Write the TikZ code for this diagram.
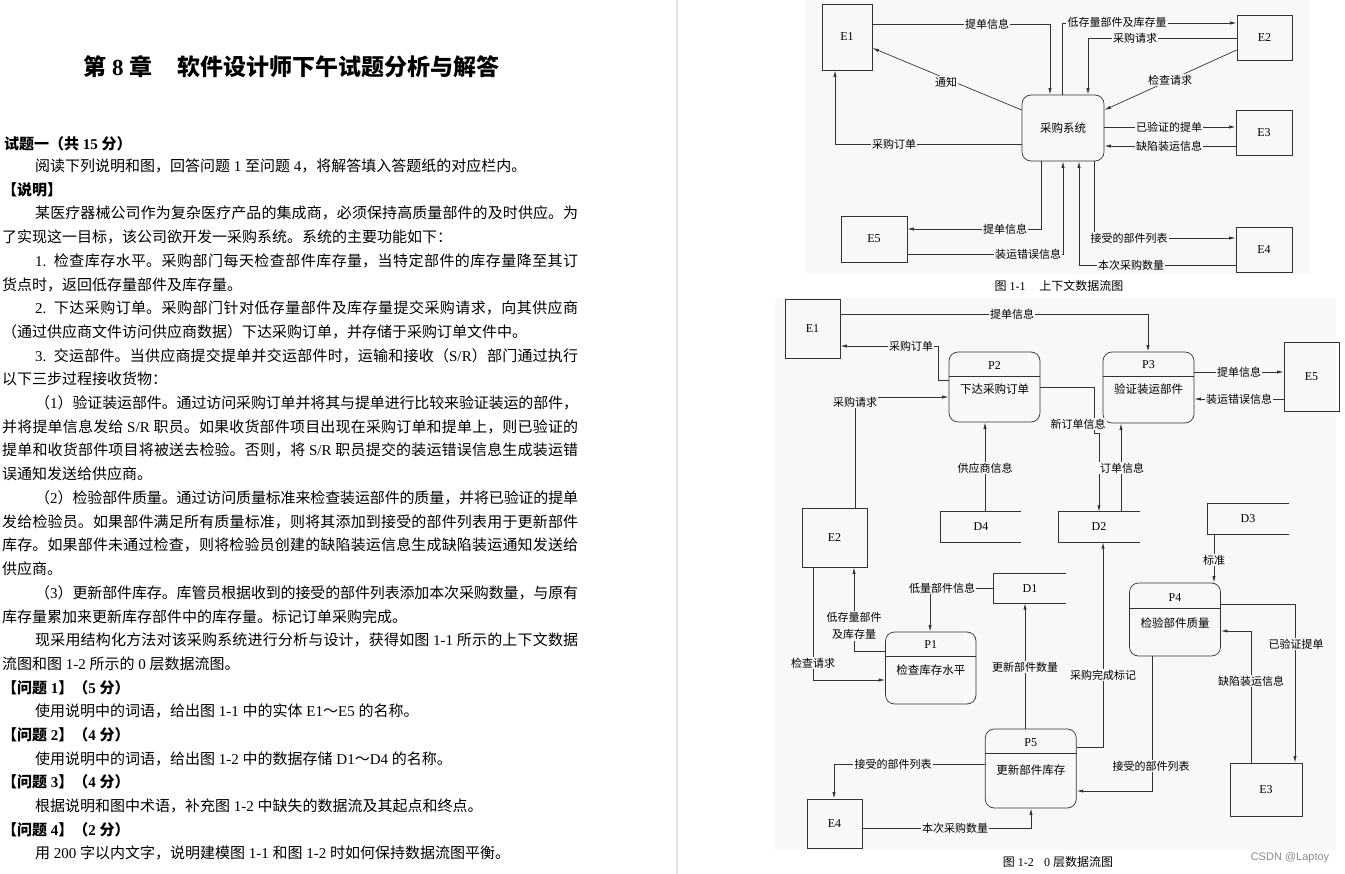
\documentclass[tikz,border=0pt]{standalone}
\usepackage{fontspec}
\setmainfont{Noto Sans CJK SC}
\newfontfamily\lat{Liberation Serif}
\newfontfamily\csdnfont{Liberation Sans}
\usetikzlibrary{arrows.meta,calc}
\XeTeXlinebreaklocale "zh"
\XeTeXlinebreakskip=0pt plus 2pt minus 0.3pt
\definecolor{bgg}{RGB}{248,248,248}
\definecolor{sepc}{RGB}{226,226,226}
\newcommand\Nb[1]{\hspace{.25em}{\lat #1}\hspace{.25em}}
\newcommand\Nl[1]{\hspace{.25em}{\lat #1}}
\begin{document}
\begin{tikzpicture}[x=1pt,y=-1pt,
  body/.style={anchor=west, inner sep=0pt, font=\fontsize{15}{18}\selectfont},
  jus/.style={body, text width=#1, align=justify,
    execute at begin node={\parindent=0pt\parfillskip=0pt\relax}},
  ent/.style={draw=black!80, line width=.7pt, inner sep=0pt, font=\lat\fontsize{12}{14}\selectfont},
  proc/.style={draw=black!80, line width=.7pt, rounded corners=9pt, inner sep=0pt},
  store/.style={inner sep=0pt, font=\lat\fontsize{12}{14}\selectfont},
  pid/.style={inner sep=0pt, font=\lat\fontsize{12}{14}\selectfont},
  ptxt/.style={inner sep=0pt, font=\fontsize{11.5}{14}\selectfont},
  conn/.style={draw=black!80, line width=.7pt},
  arr/.style={conn, -{Latex[length=6.5pt,width=3.2pt]}},
  lbl/.style={fill=bgg, inner sep=1.2pt, font=\fontsize{11}{13}\selectfont},
  figcap/.style={inner sep=0pt, font=\fontsize{12}{14}\selectfont}
]
\useasboundingbox (0,0) rectangle (1345,874);
\fill[white] (0,0) rectangle (1345,874);
\fill[sepc] (676,0) rectangle (678,874);

% ---------------- left text column ----------------
\node[font=\fontsize{23}{26}\selectfont\bfseries] (title) at (291.5,67)
  {第\hspace{.25em}{\lat 8}\hspace{.25em}章\hspace{1.1em}软件设计师下午试题分析与解答};
\node[body, font=\fontsize{15}{18}\selectfont\bfseries] (th) at (4,144) {试题一（共\Nb{15}分）};
\node[body] (t0) at (35,166.0) {阅读下列说明和图，回答问题\Nb{1}至问题\Nl{4}，将解答填入答题纸的对应栏内。};
\node[body, font=\fontsize{15}{18}\selectfont\bfseries] (t1) at (2,189.7) {【说明】};
\node[jus=543pt] (t2) at (35,213.4) {某医疗器械公司作为复杂医疗产品的集成商，必须保持高质量部件的及时供应。为};
\node[body] (t3) at (2,237.1) {了实现这一目标，该公司欲开发一采购系统。系统的主要功能如下：};
\node[jus=543pt] (t4) at (35,260.8) {{\lat 1.}\hspace{.5em}检查库存水平。采购部门每天检查部件库存量，当特定部件的库存量降至其订};
\node[body] (t5) at (2,284.5) {货点时，返回低存量部件及库存量。};
\node[jus=543pt] (t6) at (35,308.2) {{\lat 2.}\hspace{.5em}下达采购订单。采购部门针对低存量部件及库存量提交采购请求，向其供应商};
\node[body] (t7) at (2,331.9) {（通过供应商文件访问供应商数据）下达采购订单，并存储于采购订单文件中。};
\node[jus=543pt] (t8) at (35,355.6) {{\lat 3.}\hspace{.5em}交运部件。当供应商提交提单并交运部件时，运输和接收（{\lat S/R}）部门通过执行};
\node[body] (t9) at (2,379.3) {以下三步过程接收货物：};
\node[jus=543pt] (t10) at (35,403.0) {（{\lat 1}）验证装运部件。通过访问采购订单并将其与提单进行比较来验证装运的部件，};
\node[jus=576pt] (t11) at (2,426.7) {并将提单信息发给\Nb{S/R}职员。如果收货部件项目出现在采购订单和提单上，则已验证的};
\node[jus=576pt] (t12) at (2,450.4) {提单和收货部件项目将被送去检验。否则，将\Nb{S/R}职员提交的装运错误信息生成装运错};
\node[body] (t13) at (2,474.1) {误通知发送给供应商。};
\node[jus=543pt] (t14) at (35,497.8) {（{\lat 2}）检验部件质量。通过访问质量标准来检查装运部件的质量，并将已验证的提单};
\node[jus=576pt] (t15) at (2,521.5) {发给检验员。如果部件满足所有质量标准，则将其添加到接受的部件列表用于更新部件};
\node[jus=576pt] (t16) at (2,545.2) {库存。如果部件未通过检查，则将检验员创建的缺陷装运信息生成缺陷装运通知发送给};
\node[body] (t17) at (2,568.9) {供应商。};
\node[jus=543pt] (t18) at (35,592.6) {（{\lat 3}）更新部件库存。库管员根据收到的接受的部件列表添加本次采购数量，与原有};
\node[body] (t19) at (2,616.3) {库存量累加来更新库存部件中的库存量。标记订单采购完成。};
\node[jus=543pt] (t20) at (35,640.0) {现采用结构化方法对该采购系统进行分析与设计，获得如图\Nb{1-1}所示的上下文数据};
\node[body] (t21) at (2,663.7) {流图和图\Nb{1-2}所示的\Nb{0}层数据流图。};
\node[body, font=\fontsize{15}{18}\selectfont\bfseries] (t22) at (2,687.4) {【问题\Nl{1}】（{\lat 5}\hspace{.25em}分）};
\node[body] (t23) at (35,711.1) {使用说明中的词语，给出图\Nb{1-1}中的实体\Nl{E1}～{\lat E5}\hspace{.25em}的名称。};
\node[body, font=\fontsize{15}{18}\selectfont\bfseries] (t24) at (2,734.8) {【问题\Nl{2}】（{\lat 4}\hspace{.25em}分）};
\node[body] (t25) at (35,758.5) {使用说明中的词语，给出图\Nb{1-2}中的数据存储\Nl{D1}～{\lat D4}\hspace{.25em}的名称。};
\node[body, font=\fontsize{15}{18}\selectfont\bfseries] (t26) at (2,782.2) {【问题\Nl{3}】（{\lat 4}\hspace{.25em}分）};
\node[body] (t27) at (35,805.9) {根据说明和图中术语，补充图\Nb{1-2}中缺失的数据流及其起点和终点。};
\node[body, font=\fontsize{15}{18}\selectfont\bfseries] (t28) at (2,829.6) {【问题\Nl{4}】（{\lat 2}\hspace{.25em}分）};
\node[body] (t29) at (35,853.3) {用\Nb{200}字以内文字，说明建模图\Nb{1-1}和图\Nb{1-2}时如何保持数据流图平衡。};

% ---------------- Figure 1-1 ----------------
\fill[bgg] (806,0) rectangle (1310,274);
\node[ent, minimum width=50pt, minimum height=66pt] (E1) at (847,37) {E1};
\node[ent, minimum width=55pt, minimum height=45pt] (E2) at (1264.5,37.5) {E2};
\node[ent, minimum width=56pt, minimum height=45pt] (E3) at (1264,132.5) {E3};
\node[ent, minimum width=56pt, minimum height=45pt] (E4) at (1264,249.5) {E4};
\node[ent, minimum width=66pt, minimum height=46pt] (E5) at (874,239) {E5};
\node[proc, minimum width=82pt, minimum height=66pt, font=\fontsize{11.5}{14}\selectfont] (S) at (1063,128) {采购系统};

\draw[arr] (E1.east |- 0,24) -- (1050,24) -- (S.north -| 1050,0);
\draw[arr] (S.north -| 1062,0) -- (1062,23) -- (E2.west |- 0,23);
\draw[arr] (E2.west |- 0,38) -- (1088,38) -- (S.north -| 1088,0);
\draw[arr] (E2.west |- 0,50) -- (S.east |- 0,110);
\draw[arr] (S.west |- 0,110) -- (E1.east |- 0,48);
\draw[arr] (S.east |- 0,127) -- (E3.west |- 0,127);
\draw[arr] (E3.west |- 0,146) -- (S.east |- 0,146);
\draw[arr] (S.west |- 0,144) -- (835,144) -- (E1.south -| 835,0);
\draw[arr] (S.south -| 1041,0) -- (1041,229) -- (E5.east |- 0,229);
\draw[arr] (E5.east |- 0,254) -- (1063,254) -- (S.south -| 1063,0);
\draw[arr] (S.south -| 1094,0) -- (1094,238) -- (E4.west |- 0,238);
\draw[arr] (E4.west |- 0,265) -- (1079,265) -- (S.south -| 1079,0);

\node[lbl] (a1) at (987,24) {提单信息};
\node[lbl] (a2) at (1117,22) {低存量部件及库存量};
\node[lbl] (a3) at (1135,38) {采购请求};
\node[lbl] (a4) at (1170,80) {检查请求};
\node[lbl] (a5) at (946,82) {通知};
\node[lbl] (a6) at (1169,127) {已验证的提单};
\node[lbl] (a7) at (1169,146) {缺陷装运信息};
\node[lbl] (a8) at (894,144) {采购订单};
\node[lbl] (a9) at (1005,229) {提单信息};
\node[lbl] (a10) at (1028,254) {装运错误信息};
\node[lbl] (a11) at (1129,238) {接受的部件列表};
\node[lbl] (a12) at (1131,265) {本次采购数量};
\node[figcap] (cap1) at (1059,286) {图\Nb{1-1}\hspace{.9em}上下文数据流图};

% ---------------- Figure 1-2 ----------------
\fill[bgg] (775,298) rectangle (1336,850);
\node[ent, minimum width=55pt, minimum height=59pt] (bE1) at (812.5,328.5) {E1};
\node[ent, minimum width=55pt, minimum height=69pt] (bE5) at (1311.5,376.5) {E5};
\node[ent, minimum width=65pt, minimum height=59pt] (bE2) at (834.5,537.5) {E2};
\node[ent, minimum width=72pt, minimum height=53pt] (bE3) at (1266,789.5) {E3};
\node[ent, minimum width=55pt, minimum height=49pt] (bE4) at (834.5,823.5) {E4};

\node[proc, minimum width=91pt, minimum height=70pt] (P2) at (994.5,387) {};
\node[proc, minimum width=91pt, minimum height=71pt] (P3) at (1148.5,387.5) {};
\node[proc, minimum width=90.5pt, minimum height=72pt] (P1) at (930.75,668) {};
\node[proc, minimum width=91pt, minimum height=73pt] (P4) at (1175,619.5) {};
\node[proc, minimum width=91pt, minimum height=79pt] (P5) at (1030.75,768.5) {};
\draw[conn] (P2.west |- 0,376) -- (P2.east |- 0,376);
\draw[conn] (P3.west |- 0,376) -- (P3.east |- 0,376);
\draw[conn] (P1.west |- 0,656) -- (P1.east |- 0,656);
\draw[conn] (P4.west |- 0,608) -- (P4.east |- 0,608);
\draw[conn] (P5.west |- 0,753) -- (P5.east |- 0,753);
\node[pid] (P2n) at (994.5,366) {P2};
\node[ptxt] (P2t) at (994.5,389) {下达采购订单};
\node[pid] (P3n) at (1148.5,365) {P3};
\node[ptxt] (P3t) at (1148.5,389) {验证装运部件};
\node[pid] (P1n) at (930.75,645) {P1};
\node[ptxt] (P1t) at (930.75,670) {检查库存水平};
\node[pid] (P4n) at (1175,598) {P4};
\node[ptxt] (P4t) at (1175,623) {检验部件质量};
\node[pid] (P5n) at (1030.75,743) {P5};
\node[ptxt] (P5t) at (1030.75,770) {更新部件库存};

\node[store, minimum width=80pt, minimum height=30pt] (D4) at (981,527) {D4};
\node[store, minimum width=81pt, minimum height=30pt] (D2) at (1099,527) {D2};
\node[store, minimum width=81pt, minimum height=30pt] (D3) at (1248,519) {D3};
\node[store, minimum width=72pt, minimum height=29pt] (D1) at (1030,588.5) {D1};
\foreach \d in {D1,D2,D3,D4}
  \draw[conn] (\d.north east) -- (\d.north west) -- (\d.south west) -- (\d.south east);

\draw[arr] (bE1.east |- 0,314) -- (1148,314) -- (P3.north -| 1148,0);
\draw[arr] (P2.west |- 0,380) -- (938,380) -- (938,346) -- (bE1.east |- 0,346);
\draw[arr] (bE2.north -| 855,0) -- (855,397) -- (P2.west |- 0,397);
\draw[arr] (P3.east |- 0,372) -- (bE5.west |- 0,372);
\draw[arr] (bE5.west |- 0,399) -- (P3.east |- 0,399);
\draw[arr] (P2.east |- 0,387) -- (1094,387) -- (1094,433) -- (1099,433) -- (D2.north -| 1099,0);
\draw[arr] (D2.north -| 1121,0) -- (P3.south -| 1121,0);
\draw[arr] (D4.north -| 985,0) -- (P2.south -| 985,0);
\draw[arr] (D3.south -| 1214,0) -- (P4.north -| 1214,0);
\draw[arr] (D1.west |- 0,588) -- (930,588) -- (P1.north -| 930,0);
\draw[arr] (P1.west |- 0,651) -- (854,651) -- (bE2.south -| 854,0);
\draw[arr] (bE2.south -| 813,0) -- (813,680) -- (P1.west |- 0,680);
\draw[arr] (P5.north -| 1025,0) -- (D1.south -| 1025,0);
\draw[arr] (P5.east |- 0,747) -- (1103,747) -- (D2.south -| 1103,0);
\draw[arr] (P4.east |- 0,604) -- (1295,604) -- (bE3.north -| 1295,0);
\draw[arr] (bE3.north -| 1251,0) -- (1251,631) -- (P4.east |- 0,631);
\draw[arr] (P4.south -| 1152,0) -- (1152,791) -- (P5.east |- 0,791);
\draw[arr] (P5.west |- 0,764) -- (834,764) -- (bE4.north -| 834,0);
\draw[arr] (bE4.east |- 0,828) -- (1031,828) -- (P5.south -| 1031,0);

\node[lbl] (b1) at (1012,314) {提单信息};
\node[lbl] (b2) at (911,346) {采购订单};
\node[lbl] (b3) at (855,402) {采购请求};
\node[lbl] (b4) at (1239,372) {提单信息};
\node[lbl] (b5) at (1239,399) {装运错误信息};
\node[lbl] (b6) at (1078,424) {新订单信息};
\node[lbl] (b7) at (1122,468) {订单信息};
\node[lbl] (b8) at (985,468) {供应商信息};
\node[lbl] (b9) at (1214,560) {标准};
\node[lbl] (b10) at (942,588) {低量部件信息};
\node[lbl, align=center, font=\fontsize{11}{17}\selectfont] (b11) at (854,626) {低存量部件\\及库存量};
\node[lbl] (b12) at (813,663) {检查请求};
\node[lbl] (b13) at (1025,667) {更新部件数量};
\node[lbl] (b14) at (1103,675) {采购完成标记};
\node[lbl] (b15) at (1296,644) {已验证提单};
\node[lbl] (b16) at (1251,681) {缺陷装运信息};
\node[lbl] (b17) at (1151,766) {接受的部件列表};
\node[lbl] (b18) at (893,764) {接受的部件列表};
\node[lbl] (b19) at (955,828) {本次采购数量};
\node[figcap] (cap2) at (1058,862) {图\Nb{1-2}\hspace{.6em}{\lat 0}\hspace{.25em}层数据流图};
\node[inner sep=0pt, font=\csdnfont\fontsize{11}{13}\selectfont, text=black!45] (wm) at (1290,858) {CSDN @Laptoy};
\end{tikzpicture}
\end{document}
